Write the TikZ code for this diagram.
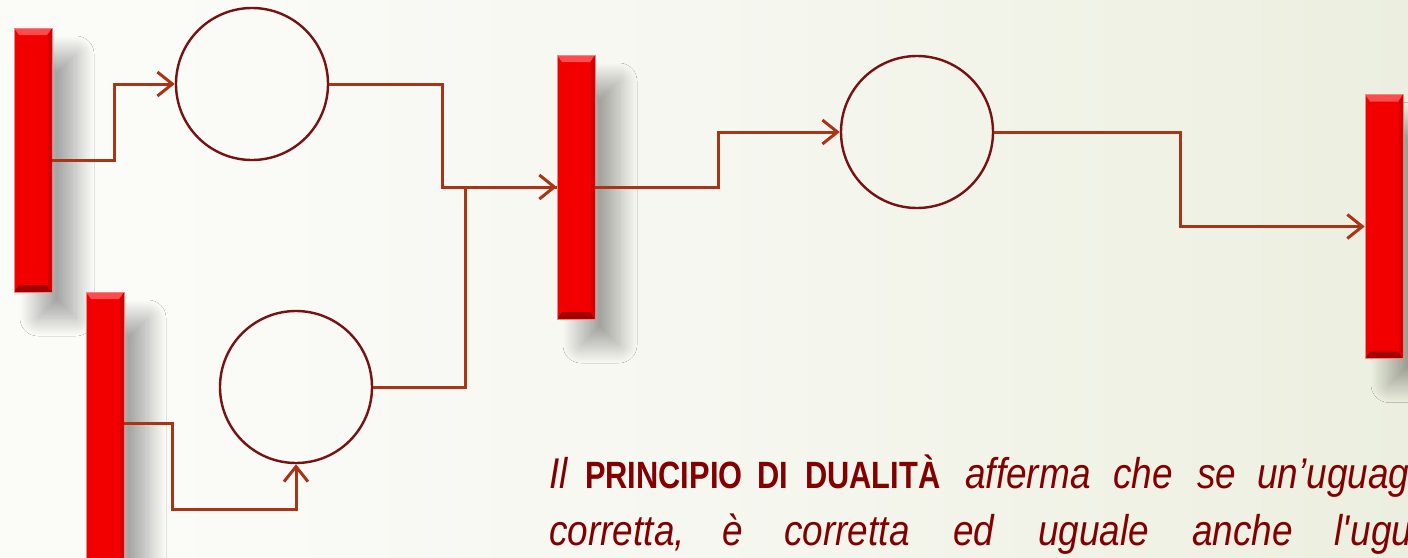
\documentclass[tikz,border=0pt]{standalone}
\usepackage{fontspec}
\newfontfamily\narrowit{Liberation Sans}[FakeStretch=0.86]
\newfontfamily\narrowbf{Liberation Sans}[FakeStretch=0.81]
\usetikzlibrary{arrows.meta,shadows.blur,calc}
\definecolor{barred}{RGB}{242,0,0}
\definecolor{barlight}{RGB}{255,75,75}
\definecolor{bardark}{RGB}{165,0,0}
\definecolor{barside}{RGB}{215,0,0}
\definecolor{baredge}{RGB}{235,135,135}
\definecolor{circ}{RGB}{118,18,18}
\definecolor{conn}{RGB}{170,52,22}
\definecolor{txt}{RGB}{130,0,0}
\definecolor{bgA}{RGB}{251,251,248}
\definecolor{bgB}{RGB}{246,247,240}
\definecolor{bgC}{RGB}{237,240,225}
\definecolor{bgD}{RGB}{226,233,206}
\pgfdeclarehorizontalshading{bgshade}{100bp}{color(0bp)=(bgA); color(30bp)=(bgA); color(50bp)=(bgB); color(72bp)=(bgC); color(100bp)=(bgD)}
\tikzset{
  bar/.style={rectangle, minimum width=38pt, minimum height=264pt, inner sep=0pt,
    fill=barred, draw=baredge, line width=0.6pt,
    blur shadow={shadow xshift=24pt, shadow yshift=-26pt, shadow blur radius=18pt,
      shadow blur steps=40, shadow opacity=34},
    path picture={
      \fill[barlight] (path picture bounding box.north west) -- (path picture bounding box.north east)
        -- ([xshift=-5pt,yshift=-7pt]path picture bounding box.north east)
        -- ([xshift=5pt,yshift=-7pt]path picture bounding box.north west) -- cycle;
      \fill[barside] (path picture bounding box.north east) -- (path picture bounding box.south east)
        -- ([xshift=-4pt,yshift=7pt]path picture bounding box.south east)
        -- ([xshift=-4pt,yshift=-7pt]path picture bounding box.north east) -- cycle;
      \fill[bardark] (path picture bounding box.south west) -- (path picture bounding box.south east)
        -- ([xshift=-5pt,yshift=7pt]path picture bounding box.south east)
        -- ([xshift=5pt,yshift=7pt]path picture bounding box.south west) -- cycle;
    }},
  place/.style={circle, minimum size=152pt, inner sep=0pt, draw=circ, line width=2.4pt},
  conn/.style={draw=conn, line width=3pt},
  arc/.style={conn, -{Straight Barb[length=15pt,width=24pt]}},
  itx/.style={font=\narrowit\itshape\fontsize{43}{48}\selectfont, text=txt, inner sep=0pt, anchor=base west},
  bdx/.style={font=\narrowbf\bfseries\fontsize{38}{42}\selectfont, text=txt, inner sep=0pt, anchor=base west}
}
\begin{document}
\begin{tikzpicture}[x=1pt,y=-1pt]
\useasboundingbox (0,0) rectangle (1408,557);
\clip (0,0) rectangle (1408,557);
\shade[shading=bgshade] (0,0) rectangle (1408,557);

% transitions (bars)
\node[bar] (b1) at (33,160) {};
\node[bar, minimum height=290pt] (b2) at (105,437) {};
\node[bar] (b3) at (576,187) {};
\node[bar] (b4) at (1384,226.5) {};

% places (circles)
\node[place] (p1) at (252,84) {};
\node[place] (p2) at (296,387) {};
\node[place] (p3) at (917,132) {};

% connectors
\draw[arc] (b1.east) -- ++(62,0) |- (p1.west);
\draw[arc] ($(b2.north east)+(0,132)$) -- ++(48,0) -- ++(0,86) -| (p2.south);
\draw[conn] (p2.east) -- ++(92,0) |- (b3.west);
\draw[arc] (p1.east) -- ++(113,0) |- (b3.west);
\draw[arc] (b3.east) -- ++(123,0) |- (p3.west);
\draw[arc] (p3.east) -- ++(186,0) |- (b4.west);

% text
\node[itx] (t1) at (549,488) {Il};
\node[bdx] (t2) at (585,488) {PRINCIPIO};
\node[bdx] (t3) at (757,488) {DI};
\node[bdx] (t4) at (805,488) {DUALITÀ};
\node[itx] (t5) at (965,488) {afferma};
\node[itx] (t6) at (1113,488) {che};
\node[itx] (t7) at (1197,488) {se};
\node[itx] (t8) at (1257,488) {un’uguag};
\node[itx] (u1) at (549,545) {corretta,};
\node[itx] (u2) at (722,545) {è};
\node[itx] (u3) at (784,545) {corretta};
\node[itx] (u4) at (953,545) {ed};
\node[itx] (u5) at (1038,545) {uguale};
\node[itx] (u6) at (1192,545) {anche};
\node[itx] (u7) at (1334,545) {l\textquotesingle ugu};
\end{tikzpicture}
\end{document}
